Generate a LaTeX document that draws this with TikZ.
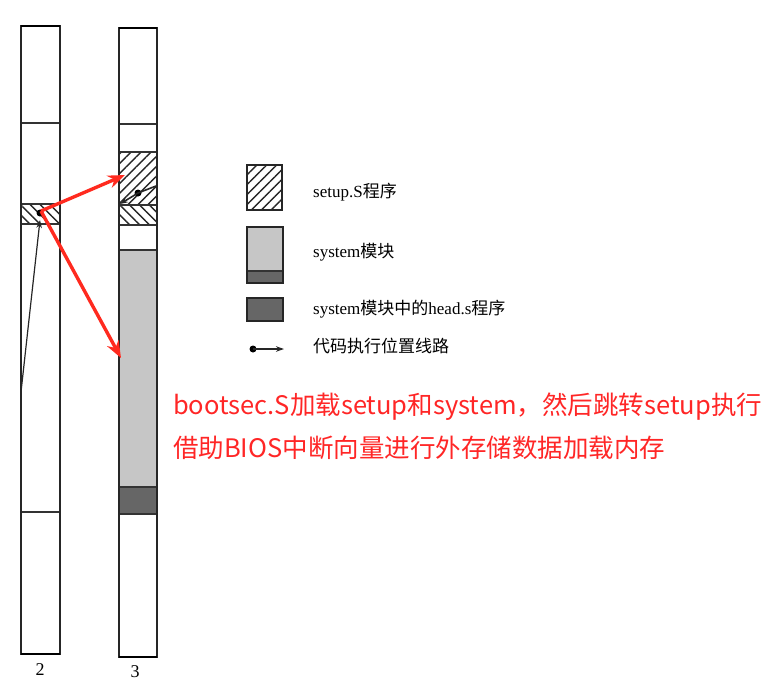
\documentclass[tikz,border=0pt]{standalone}
\usepackage{fontspec}
\setmainfont{Liberation Serif}
\newfontfamily\cjk{Noto Sans CJK SC}
\usetikzlibrary{patterns.meta,arrows.meta}
\definecolor{redarrow}{HTML}{FF2A1F}
\definecolor{redtext}{HTML}{FF2626}
\definecolor{lightg}{HTML}{C6C6C6}
\definecolor{darkg}{HTML}{666666}
\tikzset{
  colbox/.style={draw=black!85, line width=1.3pt},
  divider/.style={draw=black!80, line width=1.3pt},
  hatchne/.style={pattern={Lines[angle=45,distance=7pt,line width=1.4pt]}, pattern color=black!85},
  hatchnw/.style={pattern={Lines[angle=-45,distance=7pt,line width=1.4pt]}, pattern color=black!85},
  lightfill/.style={fill=lightg},
  darkfill/.style={fill=darkg},
  redarr/.style={draw=redarrow, line width=3.4pt, -{Stealth[length=17pt,width=13pt]}},
  blackarr/.style={draw=black!85, line width=1.2pt, -{Stealth[length=8pt,width=5.5pt]}},
  legtext/.style={anchor=west, font=\fontsize{17}{20}\selectfont, inner sep=0pt},
  redlabel/.style={anchor=west, font=\cjk\fontsize{25.5}{43}\selectfont, text=redtext, inner sep=0pt, align=left},
  collabel/.style={font=\fontsize{18}{20}\selectfont, inner sep=0pt},
  dotst/.style={circle, fill=black, inner sep=0pt, minimum size=7pt}
}
\begin{document}
\begin{tikzpicture}[x=1pt,y=-1pt]
\useasboundingbox (0,0) rectangle (768,699);
% column 2
\fill[hatchnw] (21,204) rectangle (60,224);
\draw[divider] (21,123) -- (60,123);
\draw[divider] (21,204) -- (60,204);
\draw[divider] (21,224) -- (60,224);
\draw[divider] (21,512) -- (60,512);
\draw[colbox] (21,26) rectangle (60,654);
\draw[line width=2.2pt] (21,26) -- (60,26);
\draw[line width=2.2pt] (21,654) -- (60,654);
\node[collabel] (lab2) at (40,670) {2};
% column 3
\fill[hatchne] (119,152) rectangle (157,205);
\fill[hatchnw] (119,205) rectangle (157,225);
\fill[lightfill] (119,250) rectangle (157,487);
\fill[darkfill] (119,487) rectangle (157,514);
\draw[divider] (119,124) -- (157,124);
\draw[divider] (119,152) -- (157,152);
\draw[divider] (119,205) -- (157,205);
\draw[divider] (119,225) -- (157,225);
\draw[divider] (119,250) -- (157,250);
\draw[divider] (119,487) -- (157,487);
\draw[divider] (119,514) -- (157,514);
\draw[colbox] (119,28) rectangle (157,657);
\draw[line width=2.2pt] (119,28) -- (157,28);
\draw[line width=2.2pt] (119,657) -- (157,657);
\node[collabel] (lab3) at (135,672) {3};
% code path arrows
\coordinate (lowstart) at (21,392);
\node[dotst] (bootdot) at (40,213) {};
\coordinate (bootin) at (40,220);
\draw[blackarr] (lowstart) -- (bootin);
\coordinate (setupR) at (156,186);
\node[dotst] (setupdot) at (138,193) {};
\coordinate (setupL) at (120,204);
\draw[blackarr, line width=1.6pt] (setupR) -- (setupdot.center) -- (setupL);
% red arrows
\coordinate (redstart) at (41,211);
\coordinate (toSetup) at (125,175);
\coordinate (toSystem) at (121,358);
\draw[redarr] (redstart) -- (toSetup);
\draw[redarr] (redstart) -- (toSystem);
% legend
\fill[hatchne] (247,165) rectangle (282,210);
\draw[colbox] (247,165) rectangle (282,210);
\fill[lightfill] (247,227) rectangle (283,271);
\fill[darkfill] (247,271) rectangle (283,283);
\draw[divider] (247,271) -- (283,271);
\draw[colbox] (247,227) rectangle (283,283);
\fill[darkfill] (247,298) rectangle (283,321);
\draw[colbox] (247,298) rectangle (283,321);
\node[dotst] (legdot) at (253,349) {};
\coordinate (legend) at (284,349);
\draw[blackarr] (legdot.center) -- (legend);
\node[legtext] (t1) at (313,192) {setup.S{\cjk 程序}};
\node[legtext] (t2) at (313,252) {system{\cjk 模块}};
\node[legtext] (t3) at (313,309) {system{\cjk 模块中的}head.s{\cjk 程序}};
\node[legtext] (t4) at (313,346) {{\cjk 代码执行位置线路}};
% red annotation
\node[redlabel] (note) at (173,426) {bootsec.S加载setup和system，然后跳转setup执行\\借助BIOS中断向量进行外存储数据加载内存};
\end{tikzpicture}
\end{document}
